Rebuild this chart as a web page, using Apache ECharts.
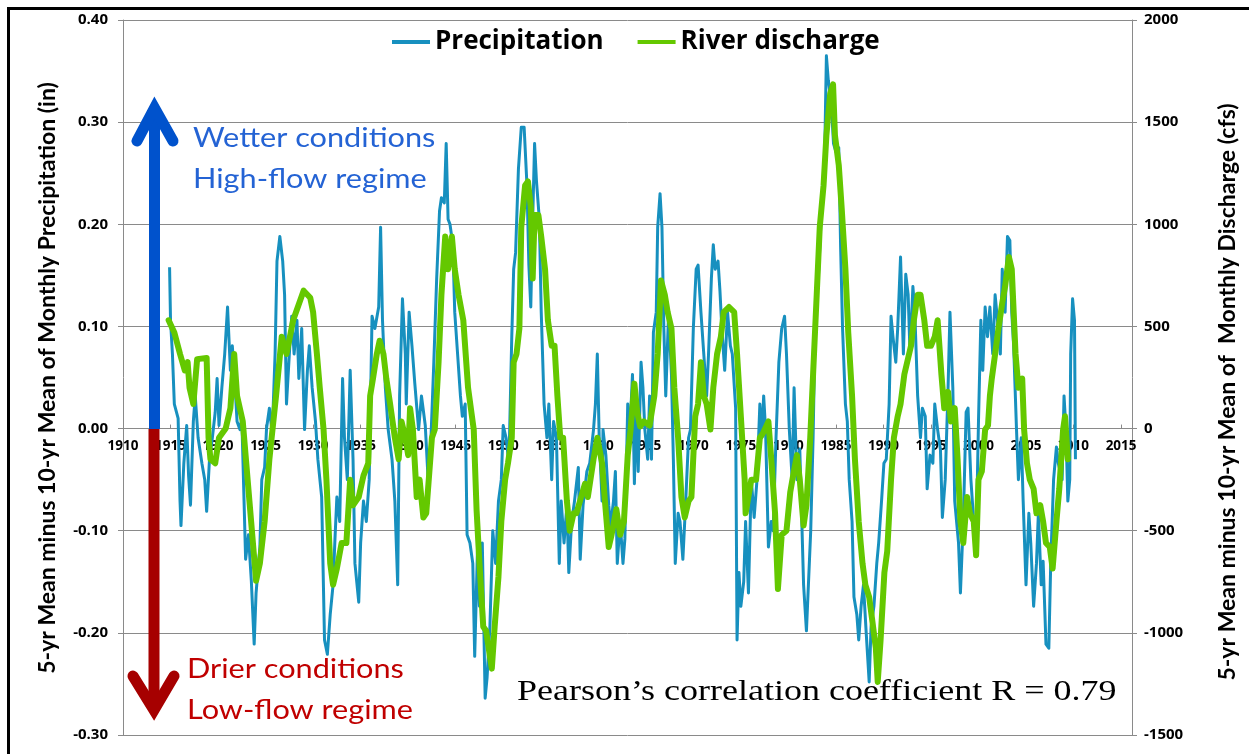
<!DOCTYPE html>
<html>
<head>
<meta charset="utf-8">
<script src="https://cdn.jsdelivr.net/npm/echarts@6/dist/echarts.min.js"></script>
<style>
html,body{margin:0;padding:0;background:#fff;}
#chart{width:1249px;height:754px;}
</style>
</head>
<body>
<div id="chart"></div>
<script>
// ---- Data ----
// Precipitation: 5-yr mean minus 10-yr mean of monthly precipitation (in)
var precipYears = [1914.9,1915.0,1915.2,1915.4,1915.8,1916.0,1916.1,1916.4,1916.7,1916.9,1917.1,1917.4,1917.6,1917.9,1918.3,1918.6,1918.8,1919.1,1919.4,1919.7,1919.9,1920.1,1920.4,1920.7,1921.0,1921.1,1921.3,1921.5,1921.8,1922.0,1922.3,1922.5,1922.9,1923.2,1923.5,1923.8,1924.0,1924.4,1924.6,1924.9,1925.1,1925.4,1925.7,1926.0,1926.2,1926.5,1926.8,1927.0,1927.2,1927.5,1927.75,1928.0,1928.3,1928.5,1928.8,1929.1,1929.4,1929.6,1929.9,1930.25,1930.5,1930.9,1931.2,1931.5,1931.8,1932.1,1932.3,1932.5,1932.8,1933.1,1933.3,1933.6,1933.9,1934.2,1934.4,1934.8,1935.0,1935.3,1935.6,1935.9,1936.2,1936.5,1936.9,1937.1,1937.3,1937.6,1937.9,1938.3,1938.6,1938.9,1939.1,1939.4,1939.7,1939.8,1940.1,1940.4,1940.7,1941.1,1941.4,1941.8,1942.1,1942.4,1942.7,1943.0,1943.3,1943.5,1943.8,1944.0,1944.2,1944.4,1944.7,1944.9,1945.2,1945.5,1945.7,1946.0,1946.2,1946.5,1946.8,1947.0,1947.3,1947.5,1947.8,1948.1,1948.3,1948.6,1948.9,1949.2,1949.5,1949.8,1950.0,1950.3,1950.6,1950.9,1951.1,1951.3,1951.6,1951.9,1952.2,1952.5,1952.7,1952.9,1953.1,1953.3,1953.5,1953.8,1954.0,1954.3,1954.6,1954.8,1955.1,1955.3,1955.6,1955.9,1956.1,1956.4,1956.7,1956.9,1957.2,1957.5,1957.9,1958.1,1958.4,1958.8,1959.1,1959.5,1959.7,1959.9,1960.1,1960.4,1960.5,1960.8,1961.1,1961.3,1961.6,1961.8,1962.0,1962.3,1962.6,1962.8,1963.1,1963.3,1963.6,1963.8,1964.0,1964.2,1964.5,1964.7,1964.9,1965.2,1965.4,1965.6,1965.8,1966.1,1966.25,1966.5,1966.7,1966.9,1967.1,1967.4,1967.7,1967.9,1968.1,1968.4,1968.6,1968.9,1969.2,1969.5,1969.7,1970.0,1970.3,1970.5,1970.8,1971.1,1971.4,1971.6,1971.9,1972.1,1972.3,1972.6,1972.8,1973.0,1973.3,1973.6,1973.9,1974.1,1974.3,1974.45,1974.6,1974.8,1975.0,1975.3,1975.5,1975.8,1976.1,1976.4,1976.7,1977.0,1977.2,1977.4,1977.6,1977.9,1978.2,1978.4,1978.7,1979.0,1979.3,1979.6,1979.8,1980.1,1980.4,1980.6,1980.9,1981.2,1981.6,1981.9,1982.1,1982.35,1982.6,1982.8,1983.2,1983.5,1983.8,1984.0,1984.2,1984.5,1984.75,1985.0,1985.3,1985.5,1985.7,1986.0,1986.2,1986.4,1986.7,1986.9,1987.2,1987.4,1987.65,1987.9,1988.2,1988.5,1988.7,1989.0,1989.3,1989.5,1989.8,1990.05,1990.3,1990.6,1990.8,1991.0,1991.3,1991.5,1991.8,1992.1,1992.35,1992.6,1992.8,1993.1,1993.3,1993.6,1993.9,1994.1,1994.4,1994.6,1994.9,1995.2,1995.4,1995.7,1996.0,1996.2,1996.5,1996.8,1997.0,1997.3,1997.5,1997.9,1998.1,1998.4,1998.7,1998.9,1999.2,1999.5,1999.75,2000.0,2000.25,2000.45,2000.7,2000.95,2001.2,2001.5,2001.75,2002.0,2002.3,2002.5,2002.8,2003.05,2003.3,2003.5,2003.7,2004.0,2004.2,2004.5,2004.7,2005.0,2005.3,2005.5,2005.8,2006.1,2006.3,2006.6,2006.8,2007.1,2007.4,2007.6,2007.9,2008.2,2008.4,2008.8,2009.0,2009.2,2009.4,2009.6,2009.7,2009.9,2010.1,2010.2];
var precipValues = [0.158,0.106,0.073,0.024,0.010,-0.071,-0.095,-0.034,0.003,-0.046,-0.075,0.007,0.032,-0.009,-0.034,-0.050,-0.081,-0.030,-0.009,0.016,0.049,0.003,0.040,0.073,0.119,0.098,0.057,0.081,0.040,0.007,-0.001,0.010,-0.128,-0.104,-0.149,-0.211,-0.161,-0.116,-0.050,-0.038,0.000,0.020,-0.005,0.073,0.164,0.188,0.164,0.131,0.024,0.073,0.110,0.073,0.106,0.049,0.098,-0.001,0.057,0.081,0.040,0.007,-0.030,-0.067,-0.207,-0.221,-0.182,-0.153,-0.108,-0.067,-0.091,0.049,-0.009,-0.050,0.057,-0.030,-0.132,-0.170,-0.112,-0.071,-0.091,-0.050,0.110,0.098,0.119,0.197,0.106,0.040,-0.001,-0.030,-0.071,-0.153,0.032,0.127,0.073,0.024,0.114,0.081,0.044,-0.001,0.032,0.003,-0.050,-0.009,0.065,0.147,0.213,0.226,0.221,0.279,0.205,0.200,0.180,0.114,0.073,0.032,0.012,0.024,-0.104,-0.112,-0.132,-0.223,-0.116,-0.174,-0.112,-0.264,-0.244,-0.194,-0.100,-0.132,-0.071,-0.050,0.003,-0.009,-0.034,0.090,0.156,0.172,0.254,0.295,0.295,0.238,0.160,0.119,0.205,0.279,0.242,0.205,0.114,0.024,-0.009,0.024,-0.050,0.007,-0.009,-0.132,-0.071,-0.112,-0.075,-0.141,-0.091,-0.071,-0.038,-0.128,-0.075,-0.042,-0.034,-0.001,0.024,0.073,-0.009,-0.071,-0.001,-0.026,-0.075,-0.095,-0.071,-0.042,-0.132,-0.091,-0.132,-0.108,0.024,-0.009,0.053,-0.054,0.024,-0.042,0.065,0.040,-0.001,-0.030,0.032,-0.030,0.094,0.114,0.197,0.230,0.197,0.098,0.032,0.114,0.053,-0.030,-0.132,-0.083,-0.091,-0.128,-0.071,-0.009,-0.001,0.098,0.156,0.160,0.114,0.073,0.032,0.073,0.147,0.180,0.156,0.164,0.135,0.098,0.057,0.114,0.081,0.073,0.073,0.020,-0.207,-0.141,-0.174,-0.150,-0.091,-0.161,-0.050,-0.087,-0.050,0.024,-0.009,0.032,-0.001,-0.116,-0.091,-0.100,-0.009,0.065,0.098,0.110,0.073,-0.001,-0.050,0.040,-0.050,-0.020,-0.153,-0.198,-0.198,-0.100,-0.009,0.094,0.156,0.217,0.258,0.365,0.341,0.320,0.279,0.271,0.275,0.176,0.098,0.024,0.007,-0.050,-0.091,-0.165,-0.182,-0.207,-0.174,-0.153,-0.202,-0.248,-0.194,-0.174,-0.132,-0.112,-0.071,-0.034,-0.030,0.024,0.110,0.090,0.065,0.098,0.168,0.073,0.151,0.131,0.073,0.139,0.114,0.032,-0.009,0.020,0.012,-0.059,-0.026,-0.034,0.024,-0.001,-0.021,-0.087,-0.050,0.040,0.114,0.040,-0.071,-0.112,-0.161,-0.091,0.016,0.020,-0.050,-0.091,-0.112,0.007,0.106,0.057,0.119,0.090,0.119,0.073,0.131,0.106,0.073,0.156,0.114,0.188,0.184,0.114,0.081,-0.001,-0.050,-0.009,-0.071,-0.153,-0.083,-0.112,-0.174,-0.132,-0.083,-0.153,-0.130,-0.211,-0.215,-0.132,-0.050,-0.018,-0.034,-0.050,0.032,-0.001,-0.071,-0.050,0.073,0.127,0.106,-0.030];

// River discharge: 5-yr mean minus 10-yr mean of monthly discharge (cfs)
var dischargeYears = [1914.8,1915.4,1916.0,1916.5,1916.8,1917.0,1917.4,1917.8,1918.8,1919.0,1919.2,1919.7,1920.1,1920.8,1921.3,1921.7,1922.0,1922.6,1923.3,1924.0,1924.4,1924.9,1925.4,1926.1,1926.7,1927.2,1927.9,1929.0,1929.7,1930.0,1930.4,1930.7,1931.1,1931.4,1931.8,1932.1,1932.5,1933.0,1933.5,1933.9,1934.2,1934.8,1935.3,1935.8,1936.0,1936.3,1936.7,1937.0,1937.4,1937.7,1938.1,1938.6,1939.0,1939.3,1939.7,1940.0,1940.2,1940.5,1940.9,1941.2,1941.6,1941.9,1942.5,1942.8,1943.2,1943.5,1943.9,1944.2,1944.6,1944.9,1945.3,1945.8,1946.3,1946.9,1947.2,1947.5,1947.9,1948.2,1948.6,1948.8,1949.1,1949.5,1949.8,1950.2,1950.5,1950.9,1951.1,1951.4,1951.7,1951.9,1952.3,1952.6,1952.9,1953.1,1953.3,1953.7,1954.0,1954.4,1954.7,1955.1,1955.4,1955.7,1956.0,1956.3,1956.7,1957.0,1957.4,1957.7,1958.2,1958.6,1958.9,1959.5,1959.9,1960.4,1960.7,1961.1,1961.4,1961.9,1962.3,1962.7,1963.1,1963.4,1963.8,1964.1,1964.4,1964.8,1965.4,1965.9,1966.25,1966.6,1967.0,1967.3,1967.7,1968.0,1968.4,1968.75,1969.1,1969.5,1969.8,1970.2,1970.5,1970.8,1971.1,1971.4,1971.8,1972.1,1972.5,1972.9,1973.2,1973.75,1974.3,1974.6,1975.0,1975.4,1975.5,1976.1,1976.6,1977.0,1977.3,1977.9,1978.2,1978.6,1978.9,1979.3,1979.8,1980.2,1980.5,1980.9,1981.2,1981.6,1981.9,1982.3,1982.6,1983.0,1983.3,1983.7,1984.0,1984.4,1984.7,1984.9,1985.3,1985.6,1986.0,1986.3,1986.7,1987.0,1987.4,1987.8,1988.1,1988.5,1988.8,1989.2,1989.4,1989.7,1990.1,1990.4,1990.8,1991.1,1991.5,1991.8,1992.2,1992.5,1992.9,1993.2,1993.6,1993.9,1994.3,1994.6,1995.0,1995.4,1995.7,1996.1,1996.4,1996.8,1997.1,1997.5,1997.8,1998.1,1998.4,1998.8,1999.1,1999.5,1999.75,2000.0,2000.35,2000.7,2001.0,2001.2,2001.4,2001.75,2002.1,2002.5,2002.8,2003.2,2003.5,2003.9,2004.2,2004.6,2004.8,2005.1,2005.4,2005.8,2006.1,2006.5,2006.8,2007.1,2007.5,2007.8,2008.2,2008.5,2008.9,2009.1,2009.4];
var dischargeValues = [530,470,365,285,325,200,120,340,345,-45,-150,-170,-45,0,100,365,160,35,-355,-745,-660,-455,-150,160,450,365,530,675,640,570,365,200,-5,-250,-660,-765,-685,-560,-560,-250,-375,-335,-230,-170,160,245,365,430,365,245,120,-45,-150,35,-45,-130,100,-5,-335,-250,-435,-415,-45,-5,325,655,940,780,940,780,655,530,200,-5,-400,-660,-970,-990,-1115,-1175,-970,-725,-455,-250,-170,-45,325,365,490,985,1190,1210,1085,735,1045,1045,940,780,530,405,405,160,-45,-45,-355,-500,-415,-415,-335,-270,-335,-150,-45,-170,-355,-580,-520,-395,-520,-455,-130,-5,220,80,10,35,15,160,365,725,655,570,490,200,-45,-335,-435,-355,-335,60,120,325,160,120,-5,200,365,450,570,595,570,365,60,-250,-415,-250,-250,-45,-25,35,-150,-415,-785,-520,-500,-310,-230,-130,-250,-475,-375,-45,265,675,985,1190,1435,1640,1685,1435,1290,1085,780,470,160,-150,-455,-660,-765,-825,-930,-1075,-1240,-1035,-705,-600,-250,-45,60,120,265,325,405,530,655,655,530,405,405,450,530,265,100,180,35,100,-150,-455,-560,-335,-415,-455,-620,-250,-210,-5,15,160,245,365,490,615,695,840,780,365,200,245,-5,-170,-250,-295,-415,-375,-455,-560,-580,-685,-455,-295,-5,60,-150];

var seriesNames = ['Precipitation', 'River discharge'];
var leftTicks = [-0.3, 0.4, 0.1];      // min, max, interval (in)
var rightTicks = [-1500, 2000, 500];   // min, max, interval (cfs)
var yearTicks = [1910, 2016.15, 5];    // min, max, interval

function zip(a, b) { var out = []; for (var i = 0; i < a.length; i++) out.push([a[i], b[i]]); return out; }

var chart = echarts.init(document.getElementById('chart'), null, {renderer: 'canvas'});
var gridColor = '#8a8a8a';
var tickFont = '"Open Sans"';

// plot box
var gTop = 20, gBottom = 19, gH = 754 - gTop - gBottom;
var zeroOffset = -gH * (0 - leftTicks[0]) / (leftTicks[1] - leftTicks[0]);

var option = {
  animation: false,
  backgroundColor: '#ffffff',
  grid: {left: 123, right: 117, top: gTop, bottom: gBottom, containLabel: false},
  legend: {
    left: 387, top: 24,
    itemWidth: 38, itemHeight: 4, itemGap: 34,
    icon: 'rect',
    textStyle: {fontFamily: tickFont, fontWeight: 'bold', fontSize: 26, color: '#000'},
    data: seriesNames
  },
  xAxis: {
    type: 'value', position: 'bottom', offset: zeroOffset,
    min: yearTicks[0], max: yearTicks[1], interval: yearTicks[2],
    axisLine: {onZero: false, lineStyle: {color: gridColor, width: 1}},
    axisTick: {show: true, inside: true, length: 4, lineStyle: {color: gridColor}},
    axisLabel: {showMaxLabel: false, margin: 11, fontFamily: tickFont, fontWeight: 'bold', fontSize: 13.5, color: '#000',
      formatter: function (v) { return String(Math.round(v)); }},
    splitLine: {show: false}
  },
  yAxis: [
    {
      type: 'value', position: 'left',
      min: leftTicks[0], max: leftTicks[1], interval: leftTicks[2],
      axisLine: {show: true, onZero: false, lineStyle: {color: gridColor}},
      axisTick: {show: true, length: 5, lineStyle: {color: gridColor}},
      axisLabel: {margin: 15, fontFamily: tickFont, fontWeight: 'bold', fontSize: 15, color: '#000',
        formatter: function (v) { return v.toFixed(2); }},
      splitLine: {show: true, lineStyle: {color: gridColor, width: 1}}
    },
    {
      type: 'value', position: 'right',
      min: rightTicks[0], max: rightTicks[1], interval: rightTicks[2],
      axisLine: {show: true, onZero: false, lineStyle: {color: gridColor}},
      axisTick: {show: true, length: 5, lineStyle: {color: gridColor}},
      axisLabel: {margin: 12, fontFamily: tickFont, fontWeight: 'bold', fontSize: 15, color: '#000',
        formatter: function (v) { return String(v); }},
      splitLine: {show: false}
    }
  ],
  series: [
    {
      name: seriesNames[0], type: 'line', yAxisIndex: 0,
      data: zip(precipYears, precipValues),
      showSymbol: false, symbol: 'none',
      lineStyle: {color: '#1790bf', width: 3, join: 'round'},
      itemStyle: {color: '#1790bf'},
      z: 2
    },
    {
      name: seriesNames[1], type: 'line', yAxisIndex: 1,
      data: zip(dischargeYears, dischargeValues),
      showSymbol: false, symbol: 'none',
      lineStyle: {color: '#64c800', width: 6, join: 'round', cap: 'round'},
      itemStyle: {color: '#64c800'},
      z: 3
    }
  ],
  graphic: [
    {type: 'rect', silent: true, z: 100, shape: {x: 8.5, y: 8.5, width: 1300, height: 800},
      style: {fill: 'none', stroke: '#000', lineWidth: 3}},
    // wetter arrow
    {type: 'line', silent: true, z: 50, shape: {x1: 154.5, y1: 429, x2: 154.5, y2: 112},
      style: {stroke: '#0052cc', lineWidth: 11}},
    {type: 'polyline', silent: true, z: 50, shape: {points: [[137, 141], [154.5, 108], [173, 141]]},
      style: {stroke: '#0052cc', lineWidth: 11, lineCap: 'round', lineJoin: 'miter', fill: null}},
    // drier arrow
    {type: 'line', silent: true, z: 50, shape: {x1: 154, y1: 429, x2: 154, y2: 708},
      style: {stroke: '#a60000', lineWidth: 11}},
    {type: 'polyline', silent: true, z: 50, shape: {points: [[133, 676], [154, 710], [174, 676]]},
      style: {stroke: '#a60000', lineWidth: 11, lineCap: 'round', lineJoin: 'miter', fill: null}},
    // annotation texts
    {type: 'text', silent: true, z: 60, x: 193, y: 139, scaleX: 1.18,
      style: {text: 'Wetter conditions', fill: '#2463d4', font: '26px Lato', align: 'left', verticalAlign: 'middle'}},
    {type: 'text', silent: true, z: 60, x: 193, y: 180, scaleX: 1.18,
      style: {text: 'High-flow regime', fill: '#2463d4', font: '26px Lato', align: 'left', verticalAlign: 'middle'}},
    {type: 'text', silent: true, z: 60, x: 187, y: 670, scaleX: 1.18,
      style: {text: 'Drier conditions', fill: '#c00000', font: '26px Lato', align: 'left', verticalAlign: 'middle'}},
    {type: 'text', silent: true, z: 60, x: 187, y: 711, scaleX: 1.18,
      style: {text: 'Low-flow regime', fill: '#c00000', font: '26px Lato', align: 'left', verticalAlign: 'middle'}},
    {type: 'text', silent: true, z: 60, x: 517, y: 692, scaleX: 1.2,
      style: {text: 'Pearson\u2019s correlation coefficient R = 0.79', fill: '#000', font: '30px "Liberation Serif"', align: 'left', verticalAlign: 'middle'}},
    // axis titles
    {type: 'text', silent: true, z: 60, x: 48, y: 378, rotation: Math.PI / 2,
      style: {text: '5-yr Mean minus 10-yr Mean of Monthly Precipitation (in)', fill: '#000', font: 'bold 23px Lato', align: 'center', verticalAlign: 'middle'}},
    {type: 'text', silent: true, z: 60, x: 1228, y: 392, rotation: Math.PI / 2,
      style: {text: '5-yr Mean minus 10-yr Mean of  Monthly Discharge (cfs)', fill: '#000', font: 'bold 23px Lato', align: 'center', verticalAlign: 'middle'}}
  ]
};
chart.setOption(option);
</script>
</body>
</html>
